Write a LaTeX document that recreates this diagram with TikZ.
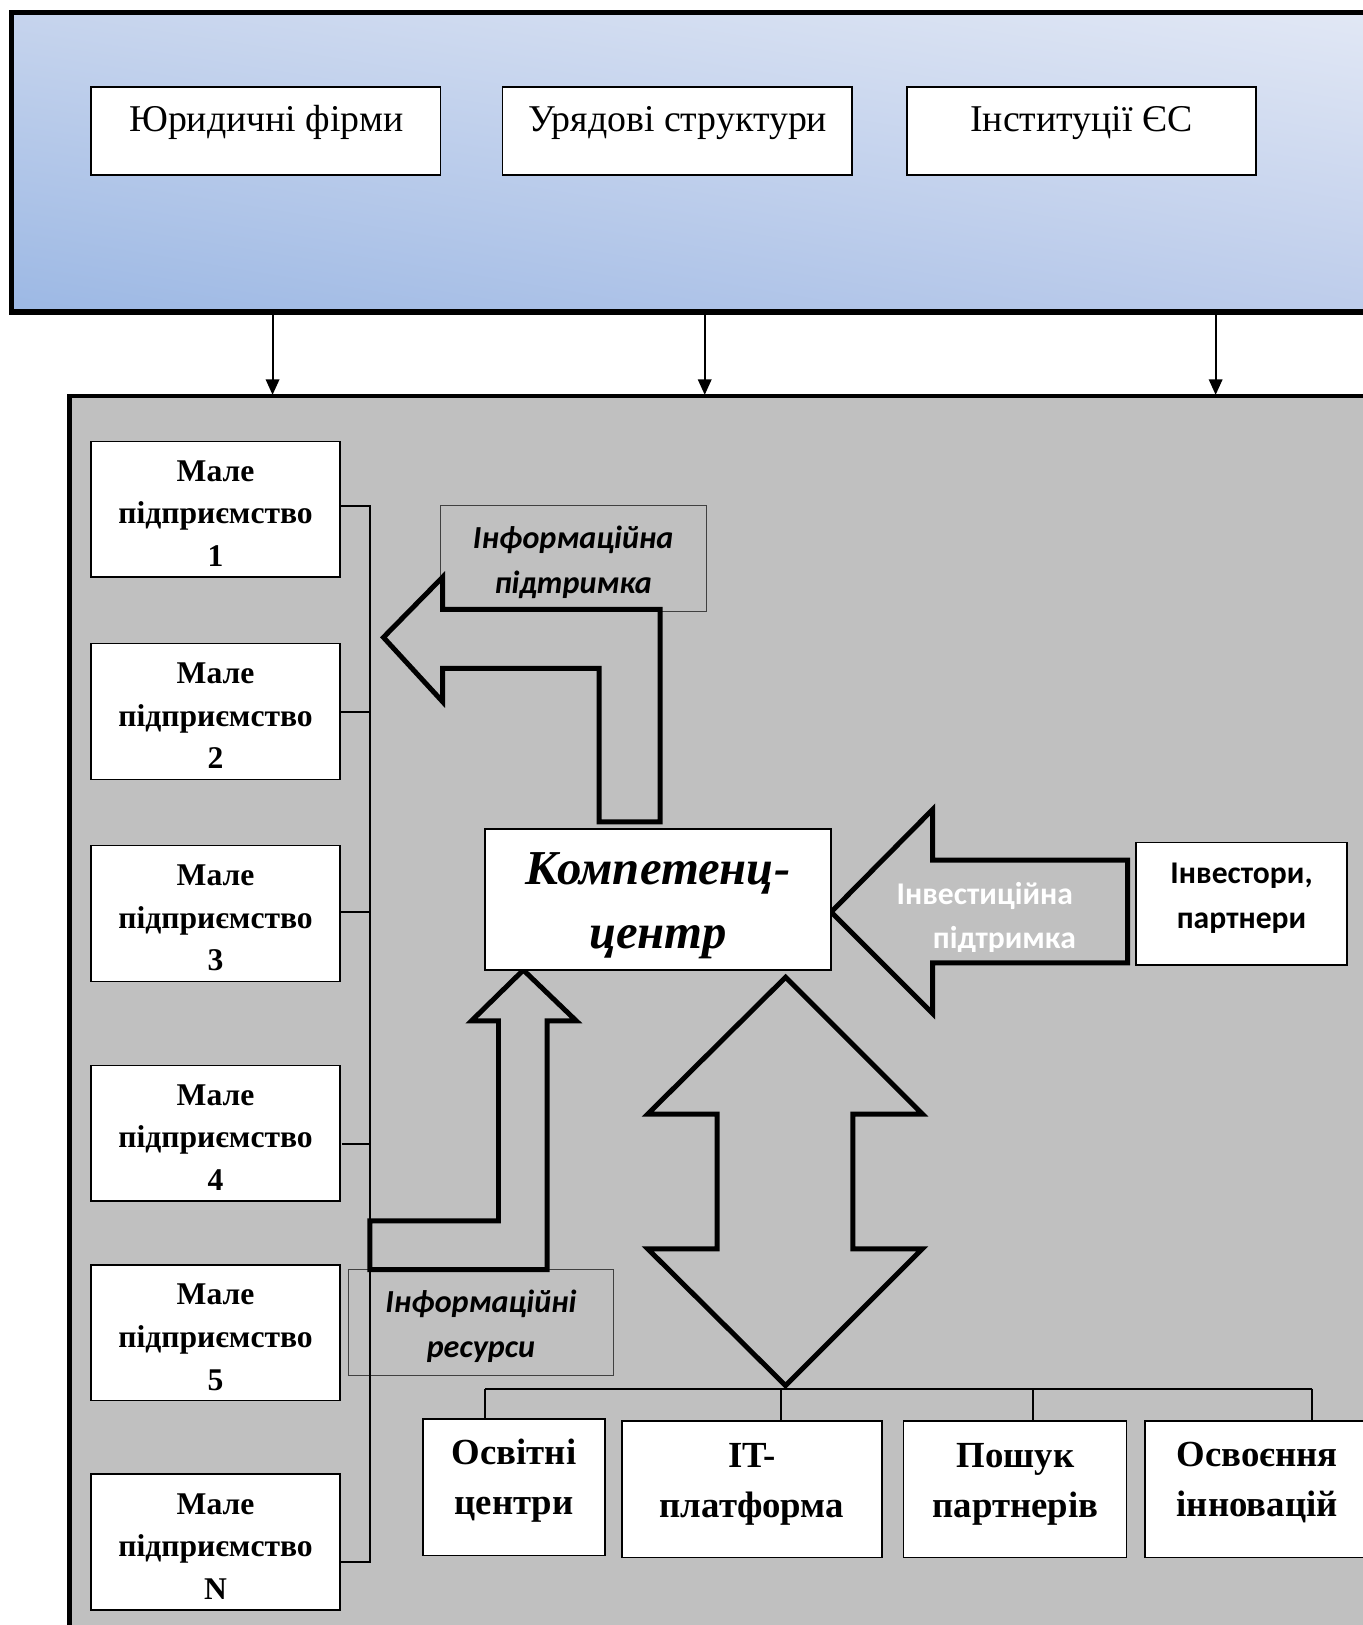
\documentclass[tikz,border=0pt]{standalone}
\usepackage{fontspec}
\setmainfont{Liberation Serif}
\newfontfamily\calfont{Carlito}
\usetikzlibrary{arrows.meta,shadings}
\definecolor{bUL}{RGB}{198,212,237}
\definecolor{bUR}{RGB}{226,232,245}
\definecolor{bLL}{RGB}{156,184,228}
\definecolor{bLR}{RGB}{190,205,235}
\definecolor{bggray}{RGB}{192,192,192}
\definecolor{lblline}{RGB}{64,64,64}
\begin{document}
\begin{tikzpicture}[x=1pt,y=-1pt,
  wbox/.style={draw=black, fill=white, line width=1.5pt, inner sep=0pt},
  lbox/.style={draw=lblline, line width=1.3pt, inner sep=0pt},
  blockarrow/.style={draw=black, line width=4.8pt, line join=miter},
  link/.style={draw=black, line width=2pt},
  downlink/.style={link, -{Triangle[length=15pt,width=13pt]}},
  struts/.style={execute at begin node=\strut, execute at end node=\strut},
  ttop/.style={font=\fontsize{36.5}{44}\selectfont, anchor=base, inner sep=0pt},
  tsmall/.style={font=\fontsize{30.5}{41.2}\selectfont\bfseries, align=center, inner sep=0pt, struts},
  tbig/.style={font=\fontsize{47}{62}\selectfont\bfseries\itshape, align=center, inner sep=0pt, struts},
  tbot/.style={font=\fontsize{35.5}{48.3}\selectfont\bfseries, align=center, inner sep=0pt, struts},
  tlab/.style={font=\calfont\fontsize{31}{43.5}\selectfont\bfseries\itshape, align=center, inner sep=0pt, struts},
  tinv/.style={font=\calfont\fontsize{30.5}{43}\selectfont\bfseries, align=center, inner sep=0pt, struts},
  tinvw/.style={font=\calfont\fontsize{30.5}{43}\selectfont\bfseries, text=white, anchor=base west, inner sep=0pt},
]
\useasboundingbox (0,0) rectangle (1315,1568);
\clip (0,0) rectangle (1315,1568);
\fill[white] (0,0) rectangle (1315,1568);

% top blue panel
\shade[upper left=bUL, upper right=bUR, lower left=bLL, lower right=bLR] (11,12) rectangle (1345,301);
\draw[line width=5pt] (11,12) rectangle (1345,301);

% grey panel
\fill[bggray] (67,382) rectangle (1345,1600);
\draw[line width=4.5pt] (67,1600) -- (67,382) -- (1345,382);

% top boxes
\node[wbox, minimum width=337pt, minimum height=85pt] (f1) at (256.5,126.5) {};
\node[wbox, minimum width=337pt, minimum height=85pt] (f2) at (653.5,126.5) {};
\node[wbox, minimum width=337pt, minimum height=85pt] (f3) at (1043.5,126.5) {};
\node[ttop] (f1t) at (257,127) {Юридичні фірми};
\node[ttop] (f2t) at (654,127) {Урядові структури};
\node[ttop] (f3t) at (1043.5,127) {Інституції ЄС};

% arrows from top panel to grey panel
\coordinate (a1) at (263,303);
\coordinate (a2) at (680,303);
\coordinate (a3) at (1173,303);
\coordinate (g1) at (263,381);
\coordinate (g2) at (680,381);
\coordinate (g3) at (1173,381);
\draw[downlink] (a1) -- (g1);
\draw[downlink] (a2) -- (g2);
\draw[downlink] (a3) -- (g3);

% small enterprises
\foreach \n/\y/\lab in {1/491.5/1, 2/686.5/2, 3/881.5/3, 4/1093.5/4, 5/1286/5, N/1488/N}{
  \node[wbox, minimum width=240pt, minimum height=131pt] (m\n) at (208,\y) {};
  \node[tsmall] (m\n t) at (208,\y+10.3) {Мале\\підприємство\\\lab};
}

% label boxes
\node[lbox, minimum width=257pt, minimum height=102pt] (lab1) at (553.5,539) {};
\node[tlab] (lab1t) at (553,546.5) {Інформаційна\\підтримка};
\node[lbox, minimum width=256pt, minimum height=102pt] (lab2) at (464,1276) {};
\node[tlab] (lab2t) at (464,1283.5) {Інформаційні\\ресурси};

% bus
\coordinate (bt) at (357,488);
\coordinate (b2) at (357,687);
\coordinate (b3) at (357,880);
\coordinate (b4) at (357,1104);
\coordinate (bb) at (357,1507);
\draw[link] (bt -| m1.east) -- (bt) -- (bb) -- (bb -| mN.east);
\draw[link] (b2 -| m2.east) -- (b2);
\draw[link] (b3 -| m3.east) -- (b3);
\draw[link] ([xshift=1pt]b4 -| m4.east) -- (b4);

% block arrows
\draw[blockarrow] (637,793) -- (637,588) -- (427,588) -- (427,557) -- (370,615) -- (427,677) -- (427,645) -- (578,645) -- (578,793) -- cycle;
\draw[blockarrow] (505,936) -- (556,985) -- (528,985) -- (528,1225) -- (357,1225) -- (357,1178) -- (481,1178) -- (481,985) -- (455,985) -- cycle;
\draw[blockarrow] (1088,830) -- (900,830) -- (900,781) -- (802,880) -- (900,978) -- (900,929) -- (1088,929) -- cycle;
\draw[blockarrow] (758,943) -- (890,1075) -- (823,1075) -- (823,1205) -- (890,1205) -- (758,1337) -- (625,1205) -- (692,1205) -- (692,1075) -- (625,1075) -- cycle;

% investment text (clipped at the bottom, as in the source)
\begin{scope}
  \clip (840,835) rectangle (1085,918.5);
  \node[tinvw] (inv1) at (865,872.5) {Інвестиційна};
  \node[tinvw] (inv2) at (900,915) {підтримка};
\end{scope}

% competence centre
\node[wbox, minimum width=334pt, minimum height=136pt] (kc) at (635,868) {};
\node[tbig] (kct) at (635,878.5) {Компетенц-\\центр};

% investors
\node[wbox, minimum width=204pt, minimum height=118pt] (inv) at (1198,872) {};
\node[tinv] (invt) at (1198,870.5) {Інвестори,\\партнери};

% bottom boxes
\node[wbox, minimum width=176pt, minimum height=132pt] (o1) at (496,1435) {};
\node[wbox, minimum width=251pt, minimum height=132pt] (o2) at (725.5,1437) {};
\node[wbox, minimum width=215pt, minimum height=132pt] (o3) at (979.5,1437) {};
\node[wbox, minimum width=220pt, minimum height=132pt] (o4) at (1215,1437) {};
\node[tbot] (o1t) at (496,1432) {Освітні\\центри};
\node[tbot] (o2t) at (725.5,1435.5) {IT-\\платформа};
\node[tbot] (o3t) at (980,1435.5) {Пошук\\партнерів};
\node[tbot] (o4t) at (1213,1435) {Освоєння\\інновацій};

% bottom distribution line
\coordinate (d1) at (468,1340);
\coordinate (d2) at (754,1340);
\coordinate (d3) at (997,1340);
\coordinate (d4) at (1266,1340);
\draw[link] (d1) -- (d4);
\draw[link] (d1) -- (d1 |- o1.north);
\draw[link] (d2) -- (d2 |- o2.north);
\draw[link] (d3) -- (d3 |- o3.north);
\draw[link] (d4) -- (d4 |- o4.north);
\end{tikzpicture}
\end{document}
